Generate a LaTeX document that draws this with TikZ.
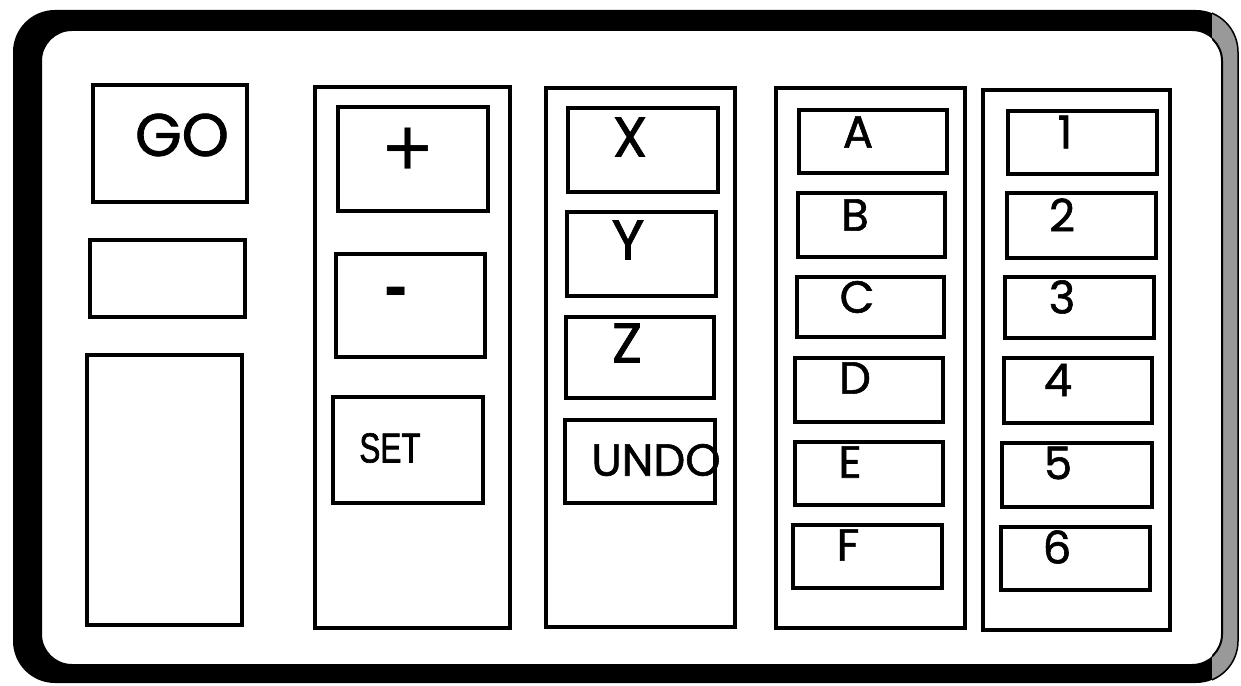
\documentclass[tikz,border=0pt]{standalone}
\usepackage{fontspec}
\setmainfont{Poppins}[FakeBold=1.3]
\newfontfamily\narrowfont[FakeStretch=0.75,FakeBold=1.5]{Liberation Sans}
\newfontfamily\symfont{Liberation Sans}
\begin{document}
\begin{tikzpicture}[x=1pt,y=-1pt,
  btn/.style={draw=black, line width=3.5pt, inner sep=0pt, fill=white},
  panel/.style={draw=black, line width=3.5pt, inner sep=0pt},
  lbl/.style={inner sep=0pt, text=black},
  big/.style={lbl, font=\fontsize{60}{60}\selectfont},
  mid/.style={lbl, font=\fontsize{56}{56}\selectfont},
  sml/.style={lbl, font=\fontsize{45}{45}\selectfont}]
\path[use as bounding box] (0,0) rectangle (1241,685);
% outer frame band
\fill[black, even odd rule]
  [rounded corners=42] (13,10) rectangle (1238,683)
  [rounded corners=30] (42,31) rectangle (1222,664);
\begin{scope}
  \clip (1212,0) rectangle (1241,685);
  \fill[black!40, even odd rule]
    [rounded corners=42] (13,10) rectangle (1238,683)
    [rounded corners=30] (42,31) rectangle (1222,664);
  \draw[black, line width=2pt, rounded corners=30] (42,31) rectangle (1222,664);
  \draw[black, line width=1.5pt, rounded corners=42] (13,10) rectangle (1238,683);
\end{scope}
% column 1
\node[btn, minimum width=154, minimum height=117] (go) at (170,143.5) {};
\node[big] (golbl) at (182,135) {GO};
\node[btn, minimum width=155, minimum height=77] (blank) at (167.5,278.5) {};
\node[btn, minimum width=155, minimum height=270] (tall) at (164.5,490) {};
% column 2
\node[panel, minimum width=195, minimum height=541] (p2) at (412.5,357.5) {};
\node[btn, minimum width=150, minimum height=104] (plus) at (413,159) {};
\node[lbl, font=\symfont\fontsize{84}{84}\selectfont] (pluslbl) at (408,152) {+};
\node[btn, minimum width=149, minimum height=103] (minus) at (410.5,305.5) {};
\node[lbl, font=\symfont\bfseries\fontsize{70}{70}\selectfont] (minuslbl) at (396,298) {-};
\node[btn, minimum width=150, minimum height=106] (set) at (408,450) {};
\node[lbl, font=\narrowfont\fontsize{42}{42}\selectfont] (setlbl) at (390,448) {SET};
% column 3
\node[panel, minimum width=189, minimum height=539] (p3) at (640.5,357.5) {};
\node[btn, minimum width=150, minimum height=84] (x) at (643,150) {};
\node[mid] (xlbl) at (630,137) {X};
\node[btn, minimum width=149, minimum height=84] (y) at (641.5,254) {};
\node[mid] (ylbl) at (628,240) {Y};
\node[btn, minimum width=148, minimum height=81] (z) at (640,357.5) {};
\node[mid] (zlbl) at (627,343) {Z};
\node[btn, minimum width=150, minimum height=83] (undo) at (640,461.5) {};
\node[sml] (undolbl) at (656,460) {UNDO};
% column 4
\node[panel, minimum width=189, minimum height=540] (p4) at (870.5,358) {};
\node[btn, minimum width=148, minimum height=63] (a) at (873,141.5) {};
\node[sml] (albl) at (858,132) {A};
\node[btn, minimum width=147, minimum height=64] (b) at (871.5,225) {};
\node[sml] (blbl) at (855,215) {B};
\node[btn, minimum width=147, minimum height=60] (c) at (870.5,307) {};
\node[sml] (clbl) at (857,297) {C};
\node[btn, minimum width=148, minimum height=64] (d) at (869,390) {};
\node[sml] (dlbl) at (855,378) {D};
\node[btn, minimum width=148, minimum height=63] (e) at (869,473.5) {};
\node[sml] (elbl) at (850,462) {E};
\node[btn, minimum width=149, minimum height=63] (f) at (867.5,556.5) {};
\node[sml] (flbl) at (848,545) {F};
% column 5
\node[panel, minimum width=187, minimum height=540] (p5) at (1076.5,360) {};
\node[btn, minimum width=149, minimum height=63] (n1) at (1082.5,142.5) {};
\node[sml] (n1lbl) at (1065,132) {1};
\node[btn, minimum width=149, minimum height=65] (n2) at (1081.5,225.5) {};
\node[sml] (n2lbl) at (1062,215) {2};
\node[btn, minimum width=149, minimum height=61] (n3) at (1079.5,307.5) {};
\node[sml] (n3lbl) at (1062,297) {3};
\node[btn, minimum width=148, minimum height=65] (n4) at (1078,390.5) {};
\node[sml] (n4lbl) at (1058,380) {4};
\node[btn, minimum width=150, minimum height=64] (n5) at (1077,475) {};
\node[sml] (n5lbl) at (1058,463) {5};
\node[btn, minimum width=149, minimum height=63] (n6) at (1075.5,558.5) {};
\node[sml] (n6lbl) at (1057,547) {6};
\end{tikzpicture}
\end{document}
